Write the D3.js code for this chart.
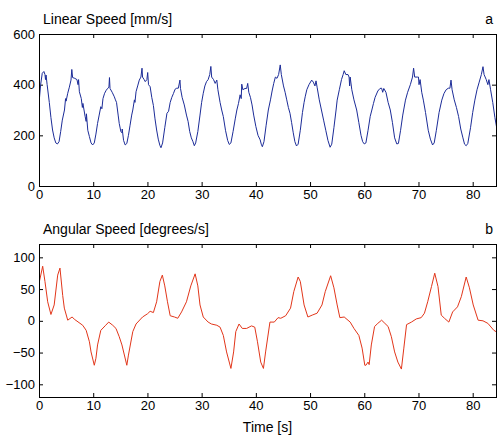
<!DOCTYPE html>
<html>
<head>
<meta charset="utf-8">
<script src="https://cdn.jsdelivr.net/npm/d3@7"></script>
<style>
  body { margin: 0; background: #fff; }
  svg { display: block; }
</style>
</head>
<body>
<svg id="chart" width="497" height="436"></svg>
<script>
// time [s], linear speed [mm/s]
const linTime = [0.0,0.3,0.6,0.9,1.1,1.2,1.3,1.5,1.9,2.2,2.5,2.8,3.1,3.4,3.7,4.0,4.3,4.7,4.9,5.0,5.3,5.6,5.9,6.05,6.2,6.6,7.0,7.2,7.3,7.45,7.8,8.0,8.1,8.5,8.7,8.75,9.0,9.3,9.6,9.9,10.2,10.5,10.8,11.1,11.4,11.6,11.8,12.1,12.4,12.7,12.9,13.0,13.1,13.5,13.9,14.1,14.3,14.6,14.8,15.1,15.3,15.35,15.6,15.9,16.2,16.5,16.8,17.1,17.3,17.6,17.7,17.9,18.2,18.5,18.8,19.0,19.1,19.4,19.6,19.9,20.05,20.2,20.5,20.8,21.1,21.4,21.7,22.0,22.3,22.5,22.8,23.2,23.6,23.9,24.2,24.5,24.8,25.1,25.4,25.7,26.0,26.1,26.4,26.8,27.2,27.5,27.8,28.1,28.4,28.65,28.9,29.3,29.7,30.0,30.3,30.6,30.9,31.2,31.5,31.7,31.85,32.2,32.5,32.8,33.0,33.4,33.7,34.0,34.4,34.8,35.1,35.4,35.8,36.2,36.5,36.8,37.1,37.3,37.4,37.6,38.0,38.3,38.5,38.7,39.0,39.3,39.6,40.0,40.4,40.8,41.0,41.2,41.5,41.9,42.3,42.7,43.0,43.3,43.6,43.9,44.2,44.5,44.7,45.1,45.4,45.7,46.0,46.3,46.6,46.9,47.2,47.5,47.8,48.2,48.6,48.9,49.1,49.4,49.8,50.3,50.6,50.9,51.1,51.3,51.7,52.1,52.5,52.9,53.3,53.7,54.0,54.4,54.8,55.0,55.4,55.8,56.1,56.3,56.6,57.0,57.2,57.3,57.4,57.7,58.1,58.6,59.0,59.4,59.7,60.0,60.3,60.7,61.1,61.4,61.7,62.0,62.5,62.9,63.2,63.4,63.6,64.0,64.4,64.8,65.2,65.6,66.0,66.3,66.7,67.1,67.6,68.0,68.5,68.9,69.1,69.3,69.8,70.0,70.1,70.3,70.6,70.9,71.3,71.8,72.2,72.6,72.9,73.3,73.8,74.3,74.7,75.1,75.5,75.8,76.0,76.2,76.6,77.0,77.4,77.8,78.2,78.5,78.8,79.1,79.6,80.0,80.4,80.8,81.2,81.6,81.9,82.1,82.5,82.8,83.0,83.3,83.7,84.1,84.5];
const linSpeed = [326,400,445,452,440,420,438,400,330,270,221,190,170,166,175,215,260,300,345,335,366,390,418,460,428,425,420,400,420,372,345,310,326,275,255,285,220,195,170,162,170,205,247,280,313,305,345,366,378,386,390,428,385,370,352,340,330,280,247,215,210,225,180,162,168,200,240,280,300,340,330,372,395,418,430,465,430,420,412,420,448,400,392,350,318,265,221,185,160,151,170,230,287,295,330,350,365,382,386,386,418,385,350,320,280,255,215,190,175,159,170,215,280,330,366,395,412,420,440,472,430,420,405,418,380,330,300,274,220,180,164,170,215,265,300,326,360,345,402,380,385,385,405,370,350,320,280,235,200,182,165,155,175,240,300,340,375,405,430,425,440,478,440,395,370,340,310,287,250,210,175,158,165,220,290,330,352,380,400,418,410,395,415,390,340,300,260,220,180,153,165,230,300,339,380,420,440,455,440,440,430,395,430,380,340,300,250,200,175,166,170,220,275,300,326,350,375,385,386,370,385,370,330,300,250,190,166,168,220,280,339,370,400,430,465,430,430,430,400,420,370,339,290,220,185,162,170,220,290,339,365,380,386,386,418,380,340,310,274,225,190,165,159,168,230,290,339,380,410,440,471,440,420,400,420,380,330,270,221];

// time [s], angular speed [degrees/s]
const angTime = [0.0,0.68,1.1,1.6,2.2,2.8,3.45,3.87,4.37,4.67,5.3,6.1,6.6,8.06,8.7,9.3,9.6,10.2,10.5,10.8,11.4,12.3,12.86,13.6,14.2,14.8,15.3,16.2,16.5,17.3,17.9,19.1,20.0,20.5,21.1,21.7,22.3,22.75,23.2,23.7,24.2,25.0,25.6,26.3,27.2,28.0,28.8,29.3,29.7,30.3,31.2,31.8,32.8,33.4,34.0,34.6,35.4,35.9,36.3,36.9,37.5,38.3,39.2,39.8,40.3,40.9,41.4,41.8,42.6,43.4,44.1,44.6,45.5,46.4,47.0,47.8,48.2,48.9,49.6,50.4,51.3,52.2,52.8,53.8,54.4,55.0,55.5,56.3,57.4,58.1,59.0,59.6,60.1,60.3,60.7,60.9,61.3,61.9,62.5,63.2,63.8,64.4,65.0,65.6,66.2,66.85,67.3,67.8,68.7,69.6,70.5,71.1,71.7,72.4,73.0,73.6,74.2,74.8,75.6,76.3,77.2,77.9,78.8,79.4,80.1,81.0,81.9,82.8,83.9,84.5];
const angSpeed = [59,86,62,30,10,25,72,83,40,20,1,6,2,-7,-15,-33,-49,-70,-59,-38,-15,-7,-2,-7,-12,-25,-38,-70,-54,-17,-5,6,11,15,13,30,62,72,55,30,8,6,4,14,30,55,74,55,25,6,-2,-5,-7,-10,-23,-49,-75,-49,-17,-5,-12,-12,-8,-10,-33,-65,-75,-49,-2,-2,5,4,8,20,46,69,62,25,6,9,12,25,46,71,52,25,5,6,-2,-12,-23,-43,-70,-70,-65,-69,-38,-9,-4,1,-4,-9,-25,-49,-65,-76,-43,-6,-2,3,5,12,30,54,75,54,9,4,-2,14,22,38,69,52,25,1,0,-4,-15,-18];

const xTicks = [0,10,20,30,40,50,60,70,80];
const linTicks = [0,200,400,600];
const angTicks = [-100,-50,0,50,100];

const svg = d3.select("#chart")
  .attr("font-family", "'Liberation Sans', Arial, sans-serif")
  .attr("font-size", 14);

const left = 39, right = 496;
const x = d3.scaleLinear().domain([0, 84.3]).range([left, right]);

function panel(top, bottom, yDomain, yTicks, times, values, color, title, letter) {
  const y = d3.scaleLinear().domain(yDomain).range([bottom, top]);
  const g = svg.append("g");

  g.append("g")
    .attr("transform", `translate(0,${bottom})`)
    .call(d3.axisBottom(x).tickValues(xTicks).tickSizeInner(-4).tickSizeOuter(0).tickPadding(4));
  g.append("g")
    .attr("transform", `translate(0,${top})`)
    .call(d3.axisTop(x).tickValues(xTicks).tickSizeInner(-4).tickSizeOuter(0).tickFormat(""));
  g.append("g")
    .attr("transform", `translate(${left},0)`)
    .call(d3.axisLeft(y).tickValues(yTicks).tickSizeInner(-4).tickSizeOuter(0).tickPadding(4));
  g.append("g")
    .attr("transform", `translate(${right},0)`)
    .call(d3.axisRight(y).tickValues(yTicks).tickSizeInner(-4).tickSizeOuter(0).tickFormat(""));

  g.selectAll(".domain").remove();
  g.selectAll(".tick text").attr("fill", "#000").attr("font-size", 13);

  const clipId = "clip" + top;
  g.append("clipPath").attr("id", clipId)
    .append("rect").attr("x", left).attr("y", top).attr("width", right - left).attr("height", bottom - top);

  const line = d3.line().x(d => x(d[0])).y(d => y(d[1]));
  g.append("path")
    .datum(times.map((t, i) => [t, values[i]]))
    .attr("clip-path", `url(#${clipId})`)
    .attr("fill", "none")
    .attr("stroke", color)
    .attr("stroke-width", 1)
    .attr("stroke-linejoin", "round")
    .attr("d", line);

  g.append("rect")
    .attr("x", left + 0.5).attr("y", top + 0.5)
    .attr("width", right - left).attr("height", bottom - top)
    .attr("fill", "none").attr("stroke", "#000");

  g.append("text").attr("x", 43).attr("y", top - 10).text(title);
  g.append("text").attr("x", 493).attr("y", top - 10).attr("text-anchor", "end").text(letter);
}

panel(34, 186, [0, 600], linTicks, linTime, linSpeed, "#1c2c98", "Linear Speed [mm/s]", "a");
panel(244, 397, [-120, 121], angTicks, angTime, angSpeed, "#e2361a", "Angular Speed [degrees/s]", "b");

svg.append("text")
  .attr("x", (left + right) / 2).attr("y", 432)
  .attr("text-anchor", "middle")
  .text("Time [s]");
</script>
</body>
</html>
